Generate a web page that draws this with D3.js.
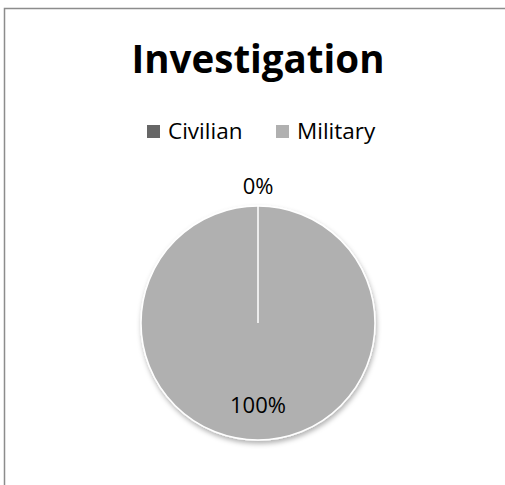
<!DOCTYPE html>
<html>
<head>
<meta charset="utf-8">
<script src="https://cdn.jsdelivr.net/npm/d3@7"></script>
<style>
  html, body { margin: 0; padding: 0; background: #fff; overflow: hidden; }
  svg { display: block; }
  text { font-family: "Open Sans", "Liberation Sans", sans-serif; }
</style>
</head>
<body>
<svg id="canvas"></svg>
<script>
var width = 505,
	height = 485;

// chart data
var categories = ["Civilian", "Military"];
var values = [0, 100];
var colors = ["#666666", "#b0b0b0"];
var title = "Investigation";

var svg = d3.select("#canvas")
	.attr("width", width)
	.attr("height", height);

// outer frame: only the top and left edges are inside the picture
svg.append("path")
	.attr("d", "M4.5," + (height + 5) + "V8.5H" + (width + 5))
	.attr("fill", "none")
	.attr("stroke", "#8c8c8c")
	.attr("stroke-width", 1.5);

svg.append("text")
	.attr("x", 258)
	.attr("y", 73)
	.attr("text-anchor", "middle")
	.attr("font-weight", "bold")
	.attr("font-size", 38.5)
	.attr("fill", "#000")
	.text(title);

// legend
var legendX = d3.scalePoint()
	.domain(categories)
	.range([147, 276]);

var legend = svg.selectAll(".legend")
	.data(categories)
	.enter()
	.append("g")
	.attr("class", "legend")
	.attr("transform", function(d){ return "translate(" + legendX(d) + ",125)"; });

legend.append("rect")
	.attr("width", 13)
	.attr("height", 13)
	.attr("fill", function(d, i){ return colors[i]; });

legend.append("text")
	.attr("x", 21)
	.attr("y", 14)
	.attr("font-size", 22.5)
	.attr("fill", "#000")
	.text(function(d){ return d; });

// pie
var cx = 258, cy = 323, r = 117;

var defs = svg.append("defs");
var f = defs.append("filter")
	.attr("id", "shadow")
	.attr("x", "-20%").attr("y", "-20%")
	.attr("width", "140%").attr("height", "140%");
f.append("feDropShadow")
	.attr("dx", 1)
	.attr("dy", 3)
	.attr("stdDeviation", 2.5)
	.attr("flood-color", "#000")
	.attr("flood-opacity", 0.3);

var pie = d3.pie().sort(null).value(function(d){ return d; });
var arcs = pie(values);

var arc = d3.arc().innerRadius(0).outerRadius(r);
var inLabel = d3.arc().innerRadius(r * 0.7).outerRadius(r * 0.7);
var outLabel = d3.arc().innerRadius(r * 1.17).outerRadius(r * 1.17);

var g = svg.append("g")
	.attr("transform", "translate(" + cx + "," + cy + ")");

// draw the big slice first so the zero slice's white edge sits on top
var order = arcs.slice().sort(function(a, b){ return b.value - a.value; });

g.append("g")
	.attr("filter", "url(#shadow)")
	.selectAll("path")
	.data(order)
	.enter()
	.append("path")
	.attr("d", arc)
	.attr("fill", function(d){ return colors[d.index]; })
	.attr("stroke", "#fff")
	.attr("stroke-width", 1.5);

var total = d3.sum(values);

g.selectAll(".lbl")
	.data(arcs)
	.enter()
	.append("text")
	.attr("class", "lbl")
	.attr("transform", function(d){
		var c = d.value === 0 ? outLabel.centroid(d) : inLabel.centroid(d);
		return "translate(" + c + ")";
	})
	.attr("dy", "0.35em")
	.attr("text-anchor", "middle")
	.attr("font-size", 22)
	.attr("fill", "#000")
	.text(function(d){ return Math.round(d.value / total * 100) + "%"; });
</script>
</body>
</html>
